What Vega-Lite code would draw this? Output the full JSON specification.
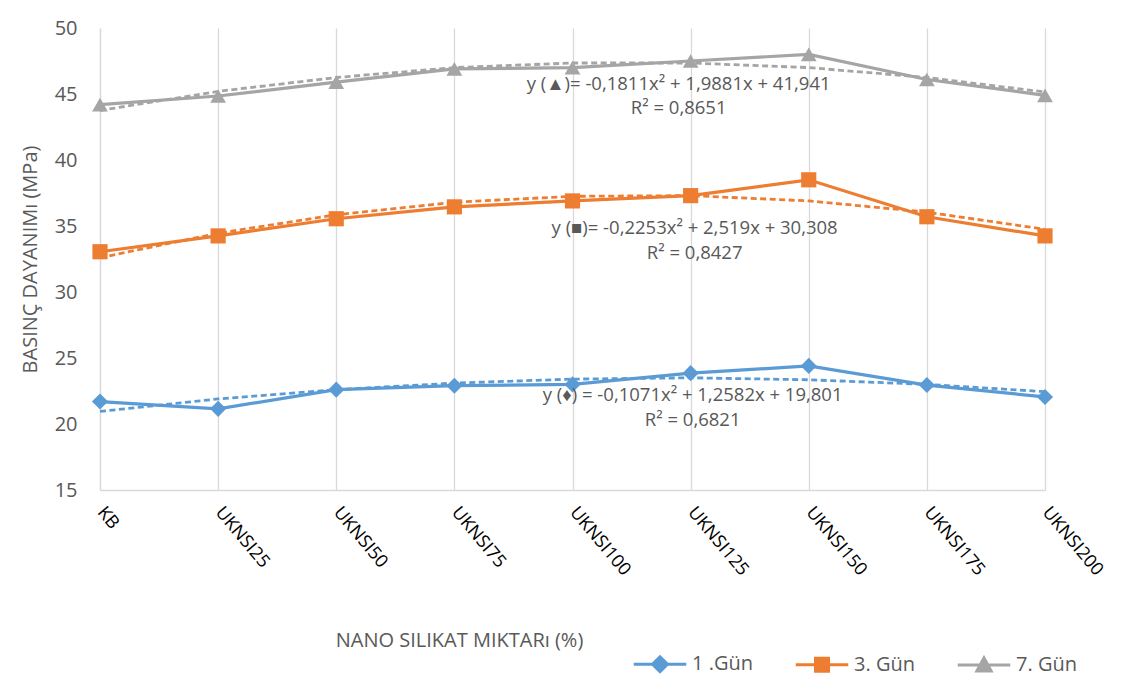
{
  "$schema": "https://vega.github.io/schema/vega-lite/v6.json",
  "width": 945,
  "height": 462,
  "autosize": {"type": "none"},
  "padding": {"left": 100, "top": 28, "right": 79, "bottom": 199},
  "background": "white",
  "config": {"font": "Open Sans", "view": {"stroke": null}},
  "datasets": {
    "obs": [
      {"cat": "KB", "series": "1 .Gün", "value": 21.7},
      {"cat": "UKNSI25", "series": "1 .Gün", "value": 21.15},
      {"cat": "UKNSI50", "series": "1 .Gün", "value": 22.6},
      {"cat": "UKNSI75", "series": "1 .Gün", "value": 22.9},
      {"cat": "UKNSI100", "series": "1 .Gün", "value": 23.0},
      {"cat": "UKNSI125", "series": "1 .Gün", "value": 23.85},
      {"cat": "UKNSI150", "series": "1 .Gün", "value": 24.4},
      {"cat": "UKNSI175", "series": "1 .Gün", "value": 22.95},
      {"cat": "UKNSI200", "series": "1 .Gün", "value": 22.05},
      {"cat": "KB", "series": "3. Gün", "value": 33.05},
      {"cat": "UKNSI25", "series": "3. Gün", "value": 34.25},
      {"cat": "UKNSI50", "series": "3. Gün", "value": 35.55},
      {"cat": "UKNSI75", "series": "3. Gün", "value": 36.45},
      {"cat": "UKNSI100", "series": "3. Gün", "value": 36.9},
      {"cat": "UKNSI125", "series": "3. Gün", "value": 37.3},
      {"cat": "UKNSI150", "series": "3. Gün", "value": 38.5},
      {"cat": "UKNSI175", "series": "3. Gün", "value": 35.7},
      {"cat": "UKNSI200", "series": "3. Gün", "value": 34.25},
      {"cat": "KB", "series": "7. Gün", "value": 44.2},
      {"cat": "UKNSI25", "series": "7. Gün", "value": 44.85},
      {"cat": "UKNSI50", "series": "7. Gün", "value": 45.9},
      {"cat": "UKNSI75", "series": "7. Gün", "value": 46.9},
      {"cat": "UKNSI100", "series": "7. Gün", "value": 47.0},
      {"cat": "UKNSI125", "series": "7. Gün", "value": 47.5},
      {"cat": "UKNSI150", "series": "7. Gün", "value": 48.0},
      {"cat": "UKNSI175", "series": "7. Gün", "value": 46.1},
      {"cat": "UKNSI200", "series": "7. Gün", "value": 44.9}
    ],
    "trend": [
      {"cat": "KB", "series": "1 .Gün", "value": 20.95},
      {"cat": "UKNSI25", "series": "1 .Gün", "value": 21.9},
      {"cat": "UKNSI50", "series": "1 .Gün", "value": 22.6},
      {"cat": "UKNSI75", "series": "1 .Gün", "value": 23.1},
      {"cat": "UKNSI100", "series": "1 .Gün", "value": 23.4},
      {"cat": "UKNSI125", "series": "1 .Gün", "value": 23.5},
      {"cat": "UKNSI150", "series": "1 .Gün", "value": 23.35},
      {"cat": "UKNSI175", "series": "1 .Gün", "value": 23.0},
      {"cat": "UKNSI200", "series": "1 .Gün", "value": 22.45},
      {"cat": "KB", "series": "3. Gün", "value": 32.6},
      {"cat": "UKNSI25", "series": "3. Gün", "value": 34.45},
      {"cat": "UKNSI50", "series": "3. Gün", "value": 35.85},
      {"cat": "UKNSI75", "series": "3. Gün", "value": 36.8},
      {"cat": "UKNSI100", "series": "3. Gün", "value": 37.25},
      {"cat": "UKNSI125", "series": "3. Gün", "value": 37.3},
      {"cat": "UKNSI150", "series": "3. Gün", "value": 36.9},
      {"cat": "UKNSI175", "series": "3. Gün", "value": 36.05},
      {"cat": "UKNSI200", "series": "3. Gün", "value": 34.75},
      {"cat": "KB", "series": "7. Gün", "value": 43.75},
      {"cat": "UKNSI25", "series": "7. Gün", "value": 45.2},
      {"cat": "UKNSI50", "series": "7. Gün", "value": 46.25},
      {"cat": "UKNSI75", "series": "7. Gün", "value": 47.0},
      {"cat": "UKNSI100", "series": "7. Gün", "value": 47.35},
      {"cat": "UKNSI125", "series": "7. Gün", "value": 47.35},
      {"cat": "UKNSI150", "series": "7. Gün", "value": 47.0},
      {"cat": "UKNSI175", "series": "7. Gün", "value": 46.25},
      {"cat": "UKNSI200", "series": "7. Gün", "value": 45.15}
    ],
    "notes": [
      {"cat": "UKNSI125", "series": "7. Gün", "value": 45.76, "label": "y (▲)= -0,1811x² + 1,9881x + 41,941"},
      {"cat": "UKNSI125", "series": "7. Gün", "value": 43.94, "label": "R² = 0,8651"},
      {"cat": "UKNSI125", "series": "3. Gün", "value": 34.85, "label": "y (■)= -0,2253x² + 2,519x + 30,308"},
      {"cat": "UKNSI125", "series": "3. Gün", "value": 32.95, "label": "R² = 0,8427"},
      {"cat": "UKNSI125", "series": "1 .Gün", "value": 22.2, "label": "y (♦) = -0,1071x² + 1,2582x + 19,801"},
      {"cat": "UKNSI125", "series": "1 .Gün", "value": 20.3, "label": "R² = 0,6821"}
    ]
  },
  "encoding": {
    "x": {
      "field": "cat",
      "type": "nominal",
      "sort": ["KB", "UKNSI25", "UKNSI50", "UKNSI75", "UKNSI100", "UKNSI125", "UKNSI150", "UKNSI175", "UKNSI200"],
      "scale": {"type": "point", "padding": 0},
      "axis": {
        "title": "NANO SILIKAT MIKTARı (%)",
        "grid": true,
        "gridColor": "#D9D9D9",
        "gridWidth": 1.3,
        "domainColor": "#D9D9D9",
        "domainWidth": 1.3,
        "ticks": false,
        "labelAngle": 50,
        "labelAlign": "left",
        "labelBaseline": "middle",
        "labelFontSize": 18,
        "labelColor": "#000000",
        "labelPadding": 19,
        "labelDx": -4,
        "titleX": 359,
        "titleY": 150,
        "titleAlign": "center",
        "titleBaseline": "middle",
        "titleFontSize": 20,
        "titleColor": "#595959",
        "titleFontWeight": "normal"
      }
    },
    "y": {
      "field": "value",
      "type": "quantitative",
      "scale": {"domain": [15, 50], "zero": false, "nice": false},
      "axis": {
        "title": "BASINÇ DAYANIMı (MPa)",
        "values": [15, 20, 25, 30, 35, 40, 45, 50],
        "grid": false,
        "ticks": false,
        "domain": true,
        "domainColor": "#D9D9D9",
        "domainWidth": 1.3,
        "labelFontSize": 20,
        "labelColor": "#595959",
        "labelPadding": 23,
        "titleX": -70,
        "titleY": 231,
        "titleAngle": -90,
        "titleAlign": "center",
        "titleBaseline": "middle",
        "titleFontSize": 20,
        "titleColor": "#595959",
        "titleFontWeight": "normal"
      }
    },
    "color": {
      "field": "series",
      "type": "nominal",
      "scale": {"domain": ["1 .Gün", "3. Gün", "7. Gün"], "range": ["#5B9BD5", "#ED7D31", "#A5A5A5"]},
      "legend": {
        "title": null,
        "orient": "none",
        "direction": "horizontal",
        "legendX": 550,
        "legendY": 626,
        "padding": 0,
        "labelFontSize": 20,
        "labelColor": "#595959",
        "labelOffset": 22,
        "columnPadding": 36,
        "symbolSize": 225,
        "encode": {
          "symbols": {
            "update": {
              "shape": {"signal": "datum.value === '1 .Gün' ? 'M-3.5,0H3.5M0,-1L1,0L0,1L-1,0Z' : datum.value === '3. Gün' ? 'M-3.5,0H3.5M-0.87,-0.87H0.87V0.87H-0.87Z' : 'M-3.5,0H3.5M0,-0.95L0.95,0.8H-0.95Z'"},
              "stroke": {"signal": "scale('color', datum.value)"},
              "fill": {"signal": "scale('color', datum.value)"},
              "strokeWidth": {"value": 3},
              "size": {"value": 225},
              "opacity": {"value": 1},
              "fillOpacity": {"value": 1},
              "strokeOpacity": {"value": 1}
            }
          }
        }
      }
    }
  },
  "layer": [
    {
      "data": {"name": "trend"},
      "mark": {"type": "line", "strokeDash": [6, 3.5], "strokeWidth": 2.8}
    },
    {
      "data": {"name": "obs"},
      "mark": {"type": "line", "strokeWidth": 3.2}
    },
    {
      "data": {"name": "obs"},
      "transform": [{"filter": "datum.series === '1 .Gün'"}],
      "mark": {"type": "point", "shape": "diamond", "filled": true, "opacity": 1, "size": 260}
    },
    {
      "data": {"name": "obs"},
      "transform": [{"filter": "datum.series === '3. Gün'"}],
      "mark": {"type": "point", "shape": "square", "filled": true, "opacity": 1, "size": 230}
    },
    {
      "data": {"name": "obs"},
      "transform": [{"filter": "datum.series === '7. Gün'"}],
      "mark": {"type": "point", "shape": "triangle-up", "filled": true, "opacity": 1, "size": 250}
    },
    {
      "data": {"name": "notes"},
      "transform": [{"filter": "datum.series === '7. Gün'"}],
      "mark": {"type": "text", "fontSize": 18.5, "dx": -12, "align": "center", "baseline": "middle"},
      "encoding": {"text": {"field": "label"}, "color": {"value": "#595959"}}
    },
    {
      "data": {"name": "notes"},
      "transform": [{"filter": "datum.series === '3. Gün'"}],
      "mark": {"type": "text", "fontSize": 18.5, "dx": 4, "align": "center", "baseline": "middle"},
      "encoding": {"text": {"field": "label"}, "color": {"value": "#595959"}}
    },
    {
      "data": {"name": "notes"},
      "transform": [{"filter": "datum.series === '1 .Gün'"}],
      "mark": {"type": "text", "fontSize": 18.5, "dx": 2, "align": "center", "baseline": "middle"},
      "encoding": {"text": {"field": "label"}, "color": {"value": "#595959"}}
    }
  ]
}
